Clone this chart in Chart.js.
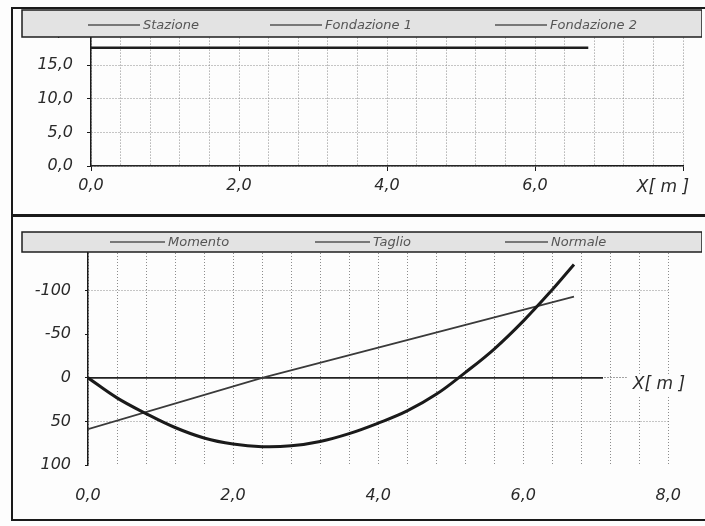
<!DOCTYPE html>
<html>
<head>
<meta charset="utf-8">
<script src="https://cdn.jsdelivr.net/npm/chart.js@4/dist/chart.umd.min.js"></script>
<style>
  html, body { margin: 0; padding: 0; background: #ffffff; }
  #wrap { position: relative; width: 705px; height: 526px; overflow: hidden; background: #fdfdfd; }
  canvas { position: absolute; }
  .ln { position: absolute; background: #1a1a1a; }
</style>
</head>
<body>
<div id="wrap">
  <canvas id="top" width="690" height="207" style="left:12px;top:8px;"></canvas>
  <canvas id="bot" width="690" height="302" style="left:12px;top:218px;"></canvas>
  <div class="ln" style="left:11px;top:7px;width:2px;height:514px;"></div>
  <div class="ln" style="left:11px;top:7px;width:694px;height:2px;"></div>
  <div class="ln" style="left:11px;top:214px;width:694px;height:3px;"></div>
  <div class="ln" style="left:11px;top:519px;width:694px;height:2px;"></div>
</div>
<script>
// ---- data ----
const topLabels = ['Stazione', 'Fondazione 1', 'Fondazione 2'];
const topX = [0, 6.72];
const stazione = [17.6, 17.6];
const fondazione1 = [0, 0];
const fondazione2 = [0, 0];

const botLabels = ['Momento', 'Taglio', 'Normale'];
const momentoX = [0, 0.4, 0.8, 1.2, 1.6, 2.0, 2.4, 2.8, 3.2, 3.6, 4.0, 4.4, 4.8, 5.2, 5.6, 6.0, 6.4, 6.7];
const momento  = [0, 23, 41, 57, 69, 76, 79, 78, 73, 64, 52, 38, 19, -6, -33, -65, -101, -130];
const taglioX = [0, 2.4, 6.7];
const taglio  = [59, 0, -93];
const normaleX = [0, 7.1];
const normale  = [0, 0];

const topXTickLabels = [0, 2, 4, 6];
const botXTickLabels = [0, 2, 4, 6, 8];
const majorX = [0, 2, 4, 6, 8];
const topYTicks = [0, 5, 10, 15, 20];
const botYTicks = [-150, -100, -50, 0, 50, 100];
const botHiddenGrid = [-50, 100];
const axisTitle = 'X[ m ]';

// ---- helpers ----
const pts = (xs, ys) => xs.map((x, i) => ({ x: x, y: ys[i] }));
const inList = (list, v) => list.some(t => Math.abs(t - v) < 1e-6);
const fmt1 = v => v.toFixed(1).replace('.', ',');
const FONT = '"DejaVu Sans", Arial, sans-serif';
const GRID = '#8c8c8c';

const overlayPlugin = {
  id: 'overlay',
  afterDraw(chart, args, opts) {
    const ctx = chart.ctx;
    ctx.save();
    // axis title
    const t = opts.title;
    ctx.font = 'italic 17px ' + FONT;
    ctx.textAlign = 'center';
    ctx.textBaseline = 'middle';
    const w = ctx.measureText(axisTitle).width;
    if (t.clear) { ctx.fillStyle = '#fdfdfd'; ctx.fillRect(t.x - w / 2 - 6, t.y - 11, w + 12, 22); }
    ctx.fillStyle = '#2a2a2a';
    ctx.fillText(axisTitle, t.x, t.y);
    // legend box
    const b = opts.box;
    ctx.fillStyle = '#e3e3e3';
    ctx.fillRect(b.x1, b.y1, b.x2 - b.x1, b.y2 - b.y1);
    ctx.strokeStyle = '#1e1e1e';
    ctx.lineWidth = 1.5;
    ctx.strokeRect(b.x1, b.y1, b.x2 - b.x1, b.y2 - b.y1);
    ctx.font = 'italic 13px ' + FONT;
    ctx.textAlign = 'left';
    chart.data.datasets.forEach((ds, i) => {
      const it = opts.items[i];
      ctx.strokeStyle = '#555';
      ctx.lineWidth = 1.5;
      ctx.beginPath();
      ctx.moveTo(it.s1, b.yc); ctx.lineTo(it.s2, b.yc); ctx.stroke();
      ctx.fillStyle = '#555';
      ctx.fillText(ds.label, it.s2 + 3, b.yc + 1);
    });
    ctx.restore();
  }
};

function xScale(opts) {
  return {
    type: 'linear', min: 0, max: 8,
    afterFit: s => { s.height = opts.h; },
    border: { display: opts.border, color: '#1a1a1a', width: 1.5, dash: [1, 2] },
    grid: {
      color: GRID, lineWidth: 1,
      drawTicks: opts.ticks, tickLength: 5, tickBorderDash: [],
      tickColor: c => inList(majorX, c.tick.value) ? '#1a1a1a' : 'rgba(0,0,0,0)'
    },
    ticks: {
      stepSize: 0.4, autoSkip: false, maxRotation: 0, padding: opts.pad,
      color: '#2a2a2a', font: { family: FONT, size: 16, style: 'italic' },
      callback: v => inList(opts.labels, v) ? fmt1(v) : ''
    }
  };
}

function yTicks() {
  return { padding: 14, color: '#2a2a2a', font: { family: FONT, size: 16, style: 'italic' } };
}

// ---- top chart ----
new Chart(document.getElementById('top'), {
  type: 'line',
  data: {
    datasets: [
      { label: topLabels[0], data: pts(topX, stazione), borderColor: '#1e1e1e', borderWidth: 2.5 },
      { label: topLabels[1], data: pts(topX, fondazione1), borderColor: '#2a2a2a', borderWidth: 1 },
      { label: topLabels[2], data: pts(topX, fondazione2), borderColor: '#2a2a2a', borderWidth: 1 }
    ]
  },
  options: {
    responsive: false, animation: false, devicePixelRatio: 1,
    elements: { point: { radius: 0 }, line: { tension: 0 } },
    layout: { padding: { top: 22, right: 19, left: 0, bottom: 0 } },
    plugins: {
      legend: { display: false }, tooltip: { enabled: false },
      overlay: {
        title: { x: 651, y: 180, clear: false },
        box: { x1: 10, y1: 2, x2: 690, y2: 29, yc: 17 },
        items: [{ s1: 76, s2: 128 }, { s1: 258, s2: 310 }, { s1: 483, s2: 535 }]
      }
    },
    scales: {
      x: xScale({ h: 49, border: true, ticks: true, pad: 5, labels: topXTickLabels }),
      y: {
        min: 0, max: 20,
        afterFit: s => { s.width = 79; },
        afterBuildTicks: s => { s.ticks = topYTicks.map(v => ({ value: v })); },
        border: { color: '#1a1a1a', width: 1.5, dash: [1, 2] },
        grid: { color: GRID, lineWidth: 1, tickLength: 4, tickBorderDash: [], tickColor: '#1a1a1a' },
        ticks: Object.assign(yTicks(), { callback: v => fmt1(v) })
      }
    }
  },
  plugins: [overlayPlugin]
});

// ---- bottom chart ----
new Chart(document.getElementById('bot'), {
  type: 'line',
  data: {
    datasets: [
      { label: botLabels[0], data: pts(momentoX, momento), borderColor: '#1a1a1a', borderWidth: 3, tension: 0.4 },
      { label: botLabels[1], data: pts(taglioX, taglio), borderColor: '#3a3a3a', borderWidth: 1.8 },
      { label: botLabels[2], data: pts(normaleX, normale), borderColor: '#222', borderWidth: 1.8 }
    ]
  },
  options: {
    responsive: false, animation: false, devicePixelRatio: 1,
    elements: { point: { radius: 0 }, line: { tension: 0 } },
    layout: { padding: { top: 29, right: 22, left: 0, bottom: 0 } },
    plugins: {
      legend: { display: false }, tooltip: { enabled: false },
      overlay: {
        title: { x: 647, y: 167, clear: true },
        box: { x1: 10, y1: 14, x2: 690, y2: 34, yc: 24 },
        items: [{ s1: 98, s2: 153 }, { s1: 303, s2: 358 }, { s1: 493, s2: 536 }]
      }
    },
    scales: {
      x: xScale({ h: 55, border: false, ticks: false, pad: 21, labels: botXTickLabels }),
      y: {
        min: -150, max: 100, reverse: true,
        afterFit: s => { s.width = 76; },
        afterBuildTicks: s => { s.ticks = botYTicks.map(v => ({ value: v })); },
        border: { color: '#1a1a1a', width: 1.5, dash: [1, 2] },
        grid: {
          lineWidth: 1, tickLength: 3, tickBorderDash: [], tickColor: '#1a1a1a',
          color: c => (c.tick && botHiddenGrid.includes(c.tick.value)) ? 'rgba(0,0,0,0)' : (c.tick && c.tick.value === 0 ? '#444' : GRID)
        },
        ticks: Object.assign(yTicks(), { callback: v => String(v) })
      }
    }
  },
  plugins: [overlayPlugin]
});
</script>
</body>
</html>
